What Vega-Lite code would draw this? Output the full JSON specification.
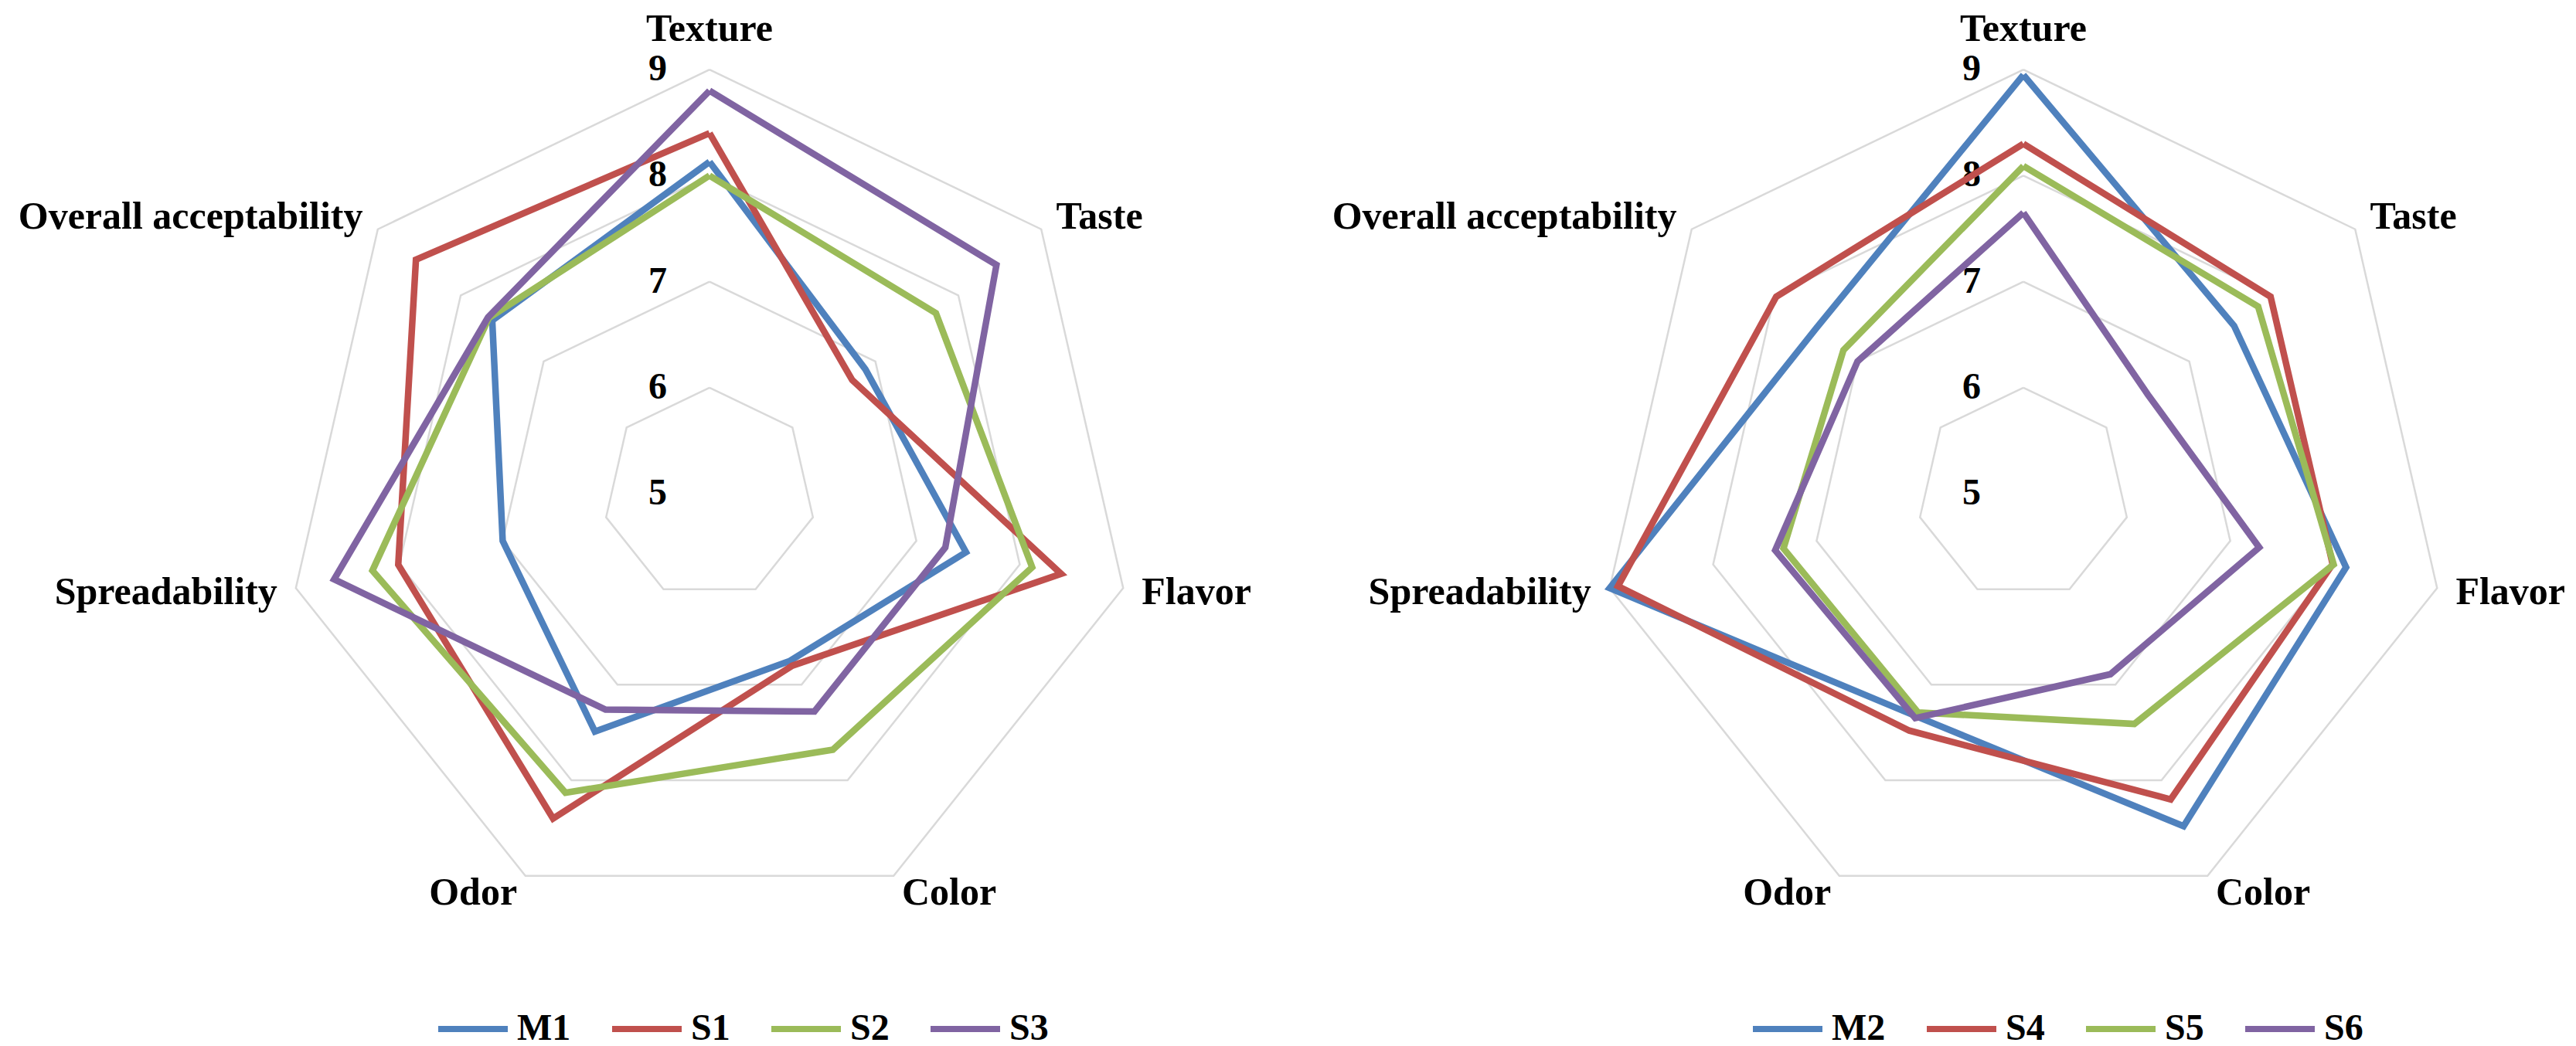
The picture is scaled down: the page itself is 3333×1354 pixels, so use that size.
{
  "$schema": "https://vega.github.io/schema/vega-lite/v6.json",
  "background": "white",
  "padding": 0,
  "spacing": 0,
  "config": {"view": {"stroke": null}},
  "datasets": {
    "scores": [
      {"panel": "A", "series": "M1", "attribute": "Texture", "score": 8.13},
      {"panel": "A", "series": "M1", "attribute": "Taste", "score": 6.88},
      {"panel": "A", "series": "M1", "attribute": "Flavor", "score": 7.48},
      {"panel": "A", "series": "M1", "attribute": "Color", "score": 6.75},
      {"panel": "A", "series": "M1", "attribute": "Odor", "score": 7.49},
      {"panel": "A", "series": "M1", "attribute": "Spreadability", "score": 7.0},
      {"panel": "A", "series": "M1", "attribute": "Overall acceptability", "score": 7.62},
      {"panel": "A", "series": "S1", "attribute": "Texture", "score": 8.4},
      {"panel": "A", "series": "S1", "attribute": "Taste", "score": 6.72},
      {"panel": "A", "series": "S1", "attribute": "Flavor", "score": 8.4},
      {"panel": "A", "series": "S1", "attribute": "Color", "score": 6.8},
      {"panel": "A", "series": "S1", "attribute": "Odor", "score": 8.4},
      {"panel": "A", "series": "S1", "attribute": "Spreadability", "score": 8.01},
      {"panel": "A", "series": "S1", "attribute": "Overall acceptability", "score": 8.54},
      {"panel": "A", "series": "S2", "attribute": "Texture", "score": 8.0},
      {"panel": "A", "series": "S2", "attribute": "Taste", "score": 7.73},
      {"panel": "A", "series": "S2", "attribute": "Flavor", "score": 8.12},
      {"panel": "A", "series": "S2", "attribute": "Color", "score": 7.68},
      {"panel": "A", "series": "S2", "attribute": "Odor", "score": 8.13},
      {"panel": "A", "series": "S2", "attribute": "Spreadability", "score": 8.26},
      {"panel": "A", "series": "S2", "attribute": "Overall acceptability", "score": 7.66},
      {"panel": "A", "series": "S3", "attribute": "Texture", "score": 8.8},
      {"panel": "A", "series": "S3", "attribute": "Taste", "score": 8.46},
      {"panel": "A", "series": "S3", "attribute": "Flavor", "score": 7.28},
      {"panel": "A", "series": "S3", "attribute": "Color", "score": 7.28},
      {"panel": "A", "series": "S3", "attribute": "Odor", "score": 7.26},
      {"panel": "A", "series": "S3", "attribute": "Spreadability", "score": 8.63},
      {"panel": "A", "series": "S3", "attribute": "Overall acceptability", "score": 7.67},
      {"panel": "B", "series": "M2", "attribute": "Texture", "score": 8.95},
      {"panel": "B", "series": "M2", "attribute": "Taste", "score": 7.54},
      {"panel": "B", "series": "M2", "attribute": "Flavor", "score": 8.12},
      {"panel": "B", "series": "M2", "attribute": "Color", "score": 8.48},
      {"panel": "B", "series": "M2", "attribute": "Odor", "score": 7.33},
      {"panel": "B", "series": "M2", "attribute": "Spreadability", "score": 9.0},
      {"panel": "B", "series": "M2", "attribute": "Overall acceptability", "score": 7.5},
      {"panel": "B", "series": "S4", "attribute": "Texture", "score": 8.3},
      {"panel": "B", "series": "S4", "attribute": "Taste", "score": 7.98},
      {"panel": "B", "series": "S4", "attribute": "Flavor", "score": 7.99},
      {"panel": "B", "series": "S4", "attribute": "Color", "score": 8.2},
      {"panel": "B", "series": "S4", "attribute": "Odor", "score": 7.48},
      {"panel": "B", "series": "S4", "attribute": "Spreadability", "score": 8.92},
      {"panel": "B", "series": "S4", "attribute": "Overall acceptability", "score": 7.98},
      {"panel": "B", "series": "S5", "attribute": "Texture", "score": 8.09},
      {"panel": "B", "series": "S5", "attribute": "Taste", "score": 7.83},
      {"panel": "B", "series": "S5", "attribute": "Flavor", "score": 8.0},
      {"panel": "B", "series": "S5", "attribute": "Color", "score": 7.41},
      {"panel": "B", "series": "S5", "attribute": "Odor", "score": 7.29},
      {"panel": "B", "series": "S5", "attribute": "Spreadability", "score": 7.32},
      {"panel": "B", "series": "S5", "attribute": "Overall acceptability", "score": 7.17},
      {"panel": "B", "series": "S6", "attribute": "Texture", "score": 7.65},
      {"panel": "B", "series": "S6", "attribute": "Taste", "score": 6.5},
      {"panel": "B", "series": "S6", "attribute": "Flavor", "score": 7.28},
      {"panel": "B", "series": "S6", "attribute": "Color", "score": 6.89},
      {"panel": "B", "series": "S6", "attribute": "Odor", "score": 7.35},
      {"panel": "B", "series": "S6", "attribute": "Spreadability", "score": 7.4},
      {"panel": "B", "series": "S6", "attribute": "Overall acceptability", "score": 7.0}
    ],
    "attributes": [
      {"attribute": "Texture", "slots": [0, 7]},
      {"attribute": "Taste", "slots": [1]},
      {"attribute": "Flavor", "slots": [2]},
      {"attribute": "Color", "slots": [3]},
      {"attribute": "Odor", "slots": [4]},
      {"attribute": "Spreadability", "slots": [5]},
      {"attribute": "Overall acceptability", "slots": [6]}
    ],
    "rings": [
      {"level": 6, "slots": [0, 1, 2, 3, 4, 5, 6, 7]},
      {"level": 7, "slots": [0, 1, 2, 3, 4, 5, 6, 7]},
      {"level": 8, "slots": [0, 1, 2, 3, 4, 5, 6, 7]},
      {"level": 9, "slots": [0, 1, 2, 3, 4, 5, 6, 7]}
    ],
    "ticks": [
      {"level": 5}, {"level": 6}, {"level": 7}, {"level": 8}, {"level": 9}
    ]
  },
  "hconcat": [
    {
      "width": 1666,
      "height": 1354,
      "encoding": {
        "x": {"field": "px", "type": "quantitative", "scale": {"domain": [-6.689, 5.45], "nice": false, "zero": false}, "axis": null},
        "y": {"field": "py", "type": "quantitative", "scale": {"domain": [-5.209, 4.656], "nice": false, "zero": false}, "axis": null}
      },
      "layer": [
        {
          "data": {"name": "rings"},
          "transform": [
            {"flatten": ["slots"], "as": ["slot"]},
            {"calculate": "(datum.level - 5) * sin(datum.slot * 2 * PI / 7)", "as": "px"},
            {"calculate": "(datum.level - 5) * cos(datum.slot * 2 * PI / 7)", "as": "py"}
          ],
          "mark": {"type": "line", "color": "#d9d9d9", "strokeWidth": 2.5, "strokeJoin": "miter"},
          "encoding": {"detail": {"field": "level", "type": "nominal"}, "order": {"field": "slot", "type": "quantitative"}}
        },
        {
          "data": {"name": "ticks"},
          "transform": [
            {"calculate": "0", "as": "px"},
            {"calculate": "datum.level - 5", "as": "py"}
          ],
          "mark": {"type": "text", "align": "right", "baseline": "middle", "dx": -55, "font": "Liberation Serif", "fontWeight": "bold", "fontSize": 48, "color": "black"},
          "encoding": {"text": {"field": "level", "type": "nominal"}}
        },
        {
          "data": {"name": "scores"},
          "transform": [
            {"filter": "datum.panel === 'A'"},
            {"lookup": "attribute", "from": {"data": {"name": "attributes"}, "key": "attribute", "fields": ["slots"]}},
            {"flatten": ["slots"], "as": ["slot"]},
            {"calculate": "(datum.score - 5) * sin(datum.slot * 2 * PI / 7)", "as": "px"},
            {"calculate": "(datum.score - 5) * cos(datum.slot * 2 * PI / 7)", "as": "py"}
          ],
          "mark": {"type": "line", "strokeWidth": 8.5, "strokeJoin": "miter"},
          "encoding": {
            "color": {
              "field": "series", "type": "nominal",
              "scale": {"domain": ["M1", "S1", "S2", "S3"], "range": ["#4F81BD", "#C0504D", "#9BBB59", "#8064A2"]},
              "legend": {"orient": "none", "legendX": 563, "legendY": 1283, "direction": "horizontal", "title": null, "symbolType": "stroke", "symbolSize": 8100, "symbolStrokeWidth": 8, "labelFont": "Liberation Serif", "labelFontSize": 48, "labelFontWeight": "bold", "labelColor": "black", "labelOffset": 8, "columnPadding": 37, "padding": 0, "labelLimit": 0}
            },
            "order": {"field": "slot", "type": "quantitative"}
          }
        },
        {
          "data": {"name": "attributes"},
          "transform": [
            {"filter": "datum.attribute === 'Texture'"},
            {"calculate": "4.18 * sin(datum.slots[0] * 2 * PI / 7)", "as": "px"},
            {"calculate": "4.18 * cos(datum.slots[0] * 2 * PI / 7)", "as": "py"}
          ],
          "mark": {"type": "text", "align": "center", "baseline": "middle", "dy": -27, "font": "Liberation Serif", "fontWeight": "bold", "fontSize": 50, "color": "black"},
          "encoding": {"text": {"field": "attribute", "type": "nominal"}}
        },
        {
          "data": {"name": "attributes"},
          "transform": [
            {"filter": "datum.attribute === 'Taste' || datum.attribute === 'Flavor' || datum.attribute === 'Color'"},
            {"calculate": "4.18 * sin(datum.slots[0] * 2 * PI / 7)", "as": "px"},
            {"calculate": "4.18 * cos(datum.slots[0] * 2 * PI / 7)", "as": "py"}
          ],
          "mark": {"type": "text", "align": "left", "baseline": "middle", "font": "Liberation Serif", "fontWeight": "bold", "fontSize": 50, "color": "black"},
          "encoding": {"text": {"field": "attribute", "type": "nominal"}}
        },
        {
          "data": {"name": "attributes"},
          "transform": [
            {"filter": "datum.attribute === 'Odor' || datum.attribute === 'Spreadability' || datum.attribute === 'Overall acceptability'"},
            {"calculate": "4.18 * sin(datum.slots[0] * 2 * PI / 7)", "as": "px"},
            {"calculate": "4.18 * cos(datum.slots[0] * 2 * PI / 7)", "as": "py"}
          ],
          "mark": {"type": "text", "align": "right", "baseline": "middle", "font": "Liberation Serif", "fontWeight": "bold", "fontSize": 50, "color": "black"},
          "encoding": {"text": {"field": "attribute", "type": "nominal"}}
        }
      ]
    },
    {
      "width": 1667,
      "height": 1354,
      "encoding": {
        "x": {"field": "px", "type": "quantitative", "scale": {"domain": [-6.936, 5.209], "nice": false, "zero": false}, "axis": null},
        "y": {"field": "py", "type": "quantitative", "scale": {"domain": [-5.209, 4.656], "nice": false, "zero": false}, "axis": null}
      },
      "layer": [
        {
          "data": {"name": "rings"},
          "transform": [
            {"flatten": ["slots"], "as": ["slot"]},
            {"calculate": "(datum.level - 5) * sin(datum.slot * 2 * PI / 7)", "as": "px"},
            {"calculate": "(datum.level - 5) * cos(datum.slot * 2 * PI / 7)", "as": "py"}
          ],
          "mark": {"type": "line", "color": "#d9d9d9", "strokeWidth": 2.5, "strokeJoin": "miter"},
          "encoding": {"detail": {"field": "level", "type": "nominal"}, "order": {"field": "slot", "type": "quantitative"}}
        },
        {
          "data": {"name": "ticks"},
          "transform": [
            {"calculate": "0", "as": "px"},
            {"calculate": "datum.level - 5", "as": "py"}
          ],
          "mark": {"type": "text", "align": "right", "baseline": "middle", "dx": -55, "font": "Liberation Serif", "fontWeight": "bold", "fontSize": 48, "color": "black"},
          "encoding": {"text": {"field": "level", "type": "nominal"}}
        },
        {
          "data": {"name": "scores"},
          "transform": [
            {"filter": "datum.panel === 'B'"},
            {"lookup": "attribute", "from": {"data": {"name": "attributes"}, "key": "attribute", "fields": ["slots"]}},
            {"flatten": ["slots"], "as": ["slot"]},
            {"calculate": "(datum.score - 5) * sin(datum.slot * 2 * PI / 7)", "as": "px"},
            {"calculate": "(datum.score - 5) * cos(datum.slot * 2 * PI / 7)", "as": "py"}
          ],
          "mark": {"type": "line", "strokeWidth": 8.5, "strokeJoin": "miter"},
          "encoding": {
            "color": {
              "field": "series", "type": "nominal",
              "scale": {"domain": ["M2", "S4", "S5", "S6"], "range": ["#4F81BD", "#C0504D", "#9BBB59", "#8064A2"]},
              "legend": {"orient": "none", "legendX": 598, "legendY": 1283, "direction": "horizontal", "title": null, "symbolType": "stroke", "symbolSize": 8100, "symbolStrokeWidth": 8, "labelFont": "Liberation Serif", "labelFontSize": 48, "labelFontWeight": "bold", "labelColor": "black", "labelOffset": 8, "columnPadding": 37, "padding": 0, "labelLimit": 0}
            },
            "order": {"field": "slot", "type": "quantitative"}
          }
        },
        {
          "data": {"name": "attributes"},
          "transform": [
            {"filter": "datum.attribute === 'Texture'"},
            {"calculate": "4.18 * sin(datum.slots[0] * 2 * PI / 7)", "as": "px"},
            {"calculate": "4.18 * cos(datum.slots[0] * 2 * PI / 7)", "as": "py"}
          ],
          "mark": {"type": "text", "align": "center", "baseline": "middle", "dy": -27, "font": "Liberation Serif", "fontWeight": "bold", "fontSize": 50, "color": "black"},
          "encoding": {"text": {"field": "attribute", "type": "nominal"}}
        },
        {
          "data": {"name": "attributes"},
          "transform": [
            {"filter": "datum.attribute === 'Taste' || datum.attribute === 'Flavor' || datum.attribute === 'Color'"},
            {"calculate": "4.18 * sin(datum.slots[0] * 2 * PI / 7)", "as": "px"},
            {"calculate": "4.18 * cos(datum.slots[0] * 2 * PI / 7)", "as": "py"}
          ],
          "mark": {"type": "text", "align": "left", "baseline": "middle", "font": "Liberation Serif", "fontWeight": "bold", "fontSize": 50, "color": "black"},
          "encoding": {"text": {"field": "attribute", "type": "nominal"}}
        },
        {
          "data": {"name": "attributes"},
          "transform": [
            {"filter": "datum.attribute === 'Odor' || datum.attribute === 'Spreadability' || datum.attribute === 'Overall acceptability'"},
            {"calculate": "4.18 * sin(datum.slots[0] * 2 * PI / 7)", "as": "px"},
            {"calculate": "4.18 * cos(datum.slots[0] * 2 * PI / 7)", "as": "py"}
          ],
          "mark": {"type": "text", "align": "right", "baseline": "middle", "font": "Liberation Serif", "fontWeight": "bold", "fontSize": 50, "color": "black"},
          "encoding": {"text": {"field": "attribute", "type": "nominal"}}
        }
      ]
    }
  ],
  "resolve": {"scale": {"color": "independent"}, "legend": {"color": "independent"}}
}
